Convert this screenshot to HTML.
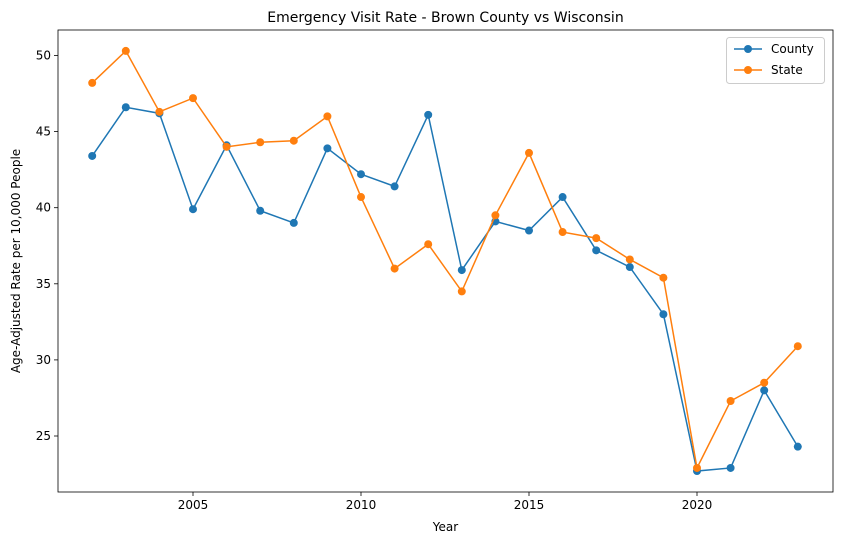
<!DOCTYPE html>
<html><head><meta charset="utf-8"><style>
body{margin:0;background:#fff;font-family:"Liberation Sans","DejaVu Sans",sans-serif}
svg text{font-family:"DejaVu Sans","Liberation Sans",sans-serif;fill:#000}
</style></head><body>
<svg id="chart" width="842" height="545"></svg>
<script>
const years=[2002,2003,2004,2005,2006,2007,2008,2009,2010,2011,2012,2013,2014,2015,2016,2017,2018,2019,2020,2021,2022,2023];
const county=[43.4,46.6,46.2,39.9,44.1,39.8,39.0,43.9,42.2,41.4,46.1,35.9,39.1,38.5,40.7,37.2,36.1,33.0,22.7,22.9,28.0,24.3];
const state=[48.2,50.3,46.3,47.2,44.0,44.3,44.4,46.0,40.7,36.0,37.6,34.5,39.5,43.6,38.4,38.0,36.6,35.4,22.9,27.3,28.5,30.9];
const xTicks=[2005,2010,2015,2020];
const yTicks=[25,30,35,40,45,50];
const L=58,R=833,T=30,B=492;
const xs=v=>193+(v-2005)*33.6;
const ys=v=>55.5+(50-v)*15.22;
const svg=document.getElementById('chart');
const NS='http://www.w3.org/2000/svg';
function mk(tag,attrs,parent){const e=document.createElementNS(NS,tag);for(const k in attrs)e.setAttribute(k,attrs[k]);(parent||svg).appendChild(e);return e;}
const frame=mk('rect',{x:L,y:T,width:R-L,height:B-T,fill:'none',stroke:'#000','stroke-width':0.8});


xTicks.forEach(t=>{const x=xs(t);
mk('line',{x1:x,x2:x,y1:B,y2:B+4,stroke:'#000','stroke-width':0.8});
const tx=mk('text',{x:x,y:B+17,'text-anchor':'middle','font-size':12});tx.textContent=t;

});
yTicks.forEach(t=>{const y=ys(t);
mk('line',{x1:L-4,x2:L,y1:y,y2:y,stroke:'#000','stroke-width':0.8});
const tx=mk('text',{x:L-7,y:y+4,'text-anchor':'end','font-size':12});tx.textContent=t;

});
const title=mk('text',{x:(L+R)/2,y:22,'text-anchor':'middle','font-size':14});title.textContent='Emergency Visit Rate - Brown County vs Wisconsin';


const xl=mk('text',{x:(L+R)/2,y:531,'text-anchor':'middle','font-size':12});xl.textContent='Year';


const yl=mk('text',{x:0,y:0,'text-anchor':'middle','font-size':12,transform:`translate(20,${(T+B)/2}) rotate(-90)`});yl.textContent='Age-Adjusted Rate per 10,000 People';


function series(vals,color,name){
const g=mk('g',{});


mk('polyline',{points:vals.map((v,i)=>xs(years[i])+','+ys(v)).join(' '),fill:'none',stroke:color,'stroke-width':1.5},g);
vals.forEach((v,i)=>{const c=mk('circle',{cx:xs(years[i]),cy:ys(v),r:4,fill:color},g);

});}
series(county,'#1f77b4','county');
series(state,'#ff7f0e','state');
const lg=mk('g',{});


mk('rect',{x:726.5,y:37.5,width:98,height:46,rx:3,fill:'#fff',stroke:'#ccc'},lg);
[['County','#1f77b4',49],['State','#ff7f0e',70]].forEach(([n,c,y])=>{
mk('line',{x1:734,x2:762,y1:y,y2:y,stroke:c,'stroke-width':1.5},lg);
mk('circle',{cx:748,cy:y,r:4,fill:c},lg);
const t=mk('text',{x:771,y:y+4,'font-size':12},lg);t.textContent=n;

});
</script>
</body></html>
